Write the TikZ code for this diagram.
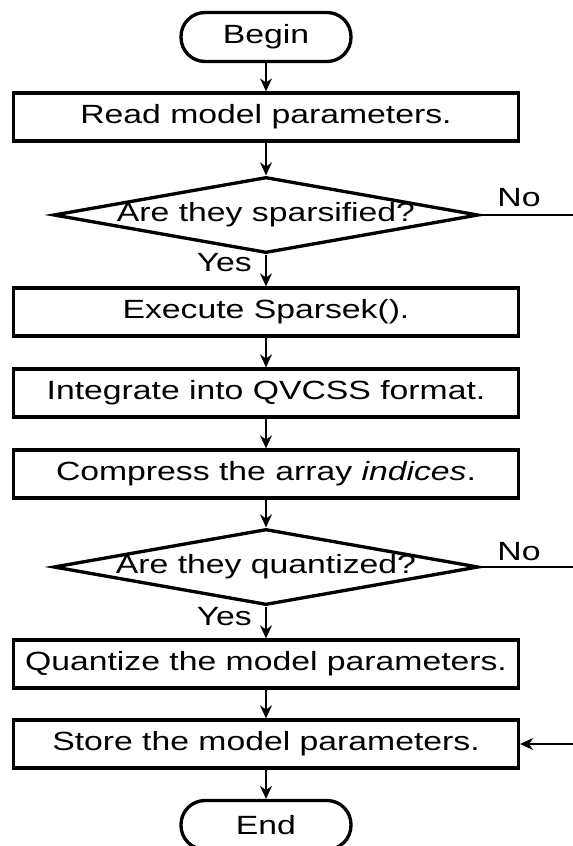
\documentclass[tikz,border=0pt]{standalone}
\usepackage{fontspec}
\setmainfont[FakeStretch=1.28]{Liberation Sans}
\usetikzlibrary{shapes.geometric}
\usetikzlibrary{arrows.meta}

\tikzset{
  txt/.style={font=\fontsize{15}{17}\selectfont},
  procbox/.style={draw,line width=1.9pt,minimum width=10.1cm,minimum height=0.96cm,inner sep=0pt,txt},
  termbox/.style={draw,line width=1.9pt,rounded corners=0.48cm,minimum width=3.4cm,minimum height=0.98cm,inner sep=0pt,txt},
  askbox/.style={draw,diamond,aspect=5.6,line width=1.9pt,minimum width=8.5cm,minimum height=1.52cm,inner xsep=-0.3cm,inner ysep=0pt,txt},
  flow/.style={-{Stealth[length=0.26cm,width=0.24cm]},line width=0.9pt},
  wire/.style={line width=0.9pt}
}

\begin{document}
\begin{tikzpicture}[x=0.02cm,y=-0.02cm]
        \useasboundingbox (0,0) rectangle (573,846);
        % main column
        \node[termbox] (begin) at (266,37) {Begin};
        \node[procbox] (read) at (266,117) {Read model parameters.};
        \node[askbox] (sparse) at (266,215) {Are they sparsified?};
        \node[procbox] (exec) at (266,312) {Execute Sparsek().};
        \node[procbox] (integ) at (266,393) {Integrate into QVCSS format.};
        \node[procbox] (compr) at (266,474) {Compress the array \textit{indices}.};
        \node[askbox] (quant) at (266,567) {Are they quantized?};
        \node[procbox] (qpar) at (266,664) {Quantize the model parameters.};
        \node[procbox] (store) at (266,744) {Store the model parameters.};
        \node[termbox] (end) at (266,825) {End};
        % labels
        \node[txt,anchor=east] (yesa) at (258,263) {Yes};
        \node[txt,anchor=east] (yesb) at (258,617) {Yes};
        \node[txt] (noa) at (519,198) {No};
        \node[txt] (nob) at (519,552) {No};
        \coordinate (outa) at (573,215);
        \coordinate (outb) at (573,567);
        \coordinate (back) at (573,744);
        % arrows
        \draw[flow] (begin) -- (read);
        \draw[flow] (read) -- (sparse);
        \draw[flow] (sparse) -- (exec);
        \draw[flow] (exec) -- (integ);
        \draw[flow] (integ) -- (compr);
        \draw[flow] (compr) -- (quant);
        \draw[flow] (quant) -- (qpar);
        \draw[flow] (qpar) -- (store);
        \draw[flow] (store) -- (end);
        \draw[wire] (sparse.east) -- (outa);
        \draw[wire] (quant.east) -- (outb);
        \draw[flow] (back) -- (store.east);
\end{tikzpicture}
\end{document}
